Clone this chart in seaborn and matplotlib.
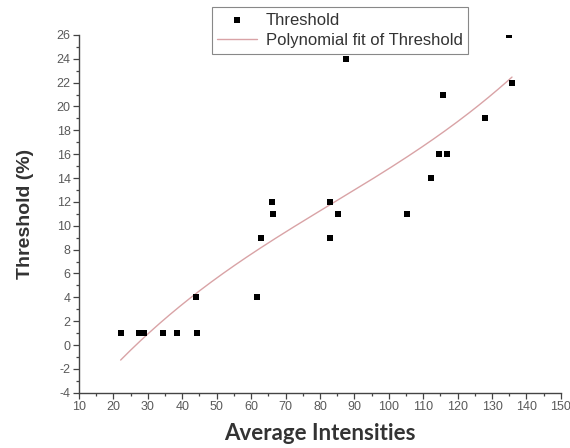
import numpy as np
import pandas as pd
import matplotlib
matplotlib.use("Agg")
import matplotlib.pyplot as plt
from matplotlib.ticker import MultipleLocator
import seaborn as sns

# Measured thresholds against average intensities
avg_intensity = [22.1, 27.5, 28.9, 34.5, 38.6, 43.9, 44.2, 61.6, 62.9, 66.1, 66.3,
                 82.9, 82.9, 85.3, 87.5, 105.3, 112.4, 114.6, 116.8, 115.8, 127.9,
                 134.9, 135.8]
threshold = [1, 1, 1, 1, 1, 4, 1, 4, 9, 12, 11,
             12, 9, 11, 24, 11, 14, 16, 16, 21, 19,
             26, 22]

x_ticks = list(range(10, 151, 10))
y_ticks = list(range(-4, 27, 2))

df = pd.DataFrame({"Average Intensities": avg_intensity, "Threshold": threshold})

# Third-order polynomial fit over the measured range
coef = np.polyfit(df["Average Intensities"], df["Threshold"], 3)
fit_x = np.linspace(min(avg_intensity), max(avg_intensity), 200)
fit_df = pd.DataFrame({"x": fit_x, "y": np.polyval(coef, fit_x)})

sns.set_theme(style="ticks")
plt.rcParams["font.family"] = ["Liberation Sans", "DejaVu Sans"]
plt.rcParams["axes.unicode_minus"] = False

fig = plt.figure(figsize=(5.7, 4.48), dpi=100)
ax = fig.add_axes([0.1386, 0.1234, 0.8454, 0.7986])

sns.lineplot(data=fit_df, x="x", y="y", ax=ax, color="#d9a3a6", linewidth=1.0,
             label="Polynomial fit of Threshold", zorder=2)
sns.scatterplot(data=df, x="Average Intensities", y="Threshold", ax=ax,
                marker="s", s=20, color="black", edgecolor="black", linewidth=0,
                label="Threshold", zorder=3)

ax.set_xlim(10, 150)
ax.set_ylim(-4, 26)
ax.set_xticks(x_ticks)
ax.set_yticks(y_ticks)
ax.xaxis.set_minor_locator(MultipleLocator(5))
ax.yaxis.set_minor_locator(MultipleLocator(1))
ax.tick_params(axis="both", which="major", length=4, width=0.9, color="#444444",
               labelsize=9, labelcolor="#5a5a5a", pad=2)
ax.tick_params(axis="both", which="minor", length=2.5, width=0.9, color="#444444")

sns.despine(ax=ax)
for side in ("left", "bottom"):
    ax.spines[side].set_color("#444444")
    ax.spines[side].set_linewidth(1.0)

ax.set_xlabel("Average Intensities", family=["Lato", "DejaVu Sans"], fontweight="bold",
              fontsize=16, color="#333333", labelpad=7)
ax.set_ylabel("Threshold (%)", fontweight="bold", fontsize=14, color="#333333",
              labelpad=16)

handles, labels = ax.get_legend_handles_labels()
order = [labels.index("Threshold"), labels.index("Polynomial fit of Threshold")]
leg = ax.legend([handles[i] for i in order], [labels[i] for i in order],
                loc="upper center", bbox_to_anchor=(0.5415, 1.078), fontsize=12,
                frameon=True, fancybox=False, edgecolor="#888888", framealpha=1,
                handlelength=2.4, borderpad=0.35, labelspacing=0.3,
                handletextpad=0.5, borderaxespad=0)
leg.get_frame().set_linewidth(0.8)
for t in leg.get_texts():
    t.set_color("#333333")

fig.savefig("out.png", dpi=100)
